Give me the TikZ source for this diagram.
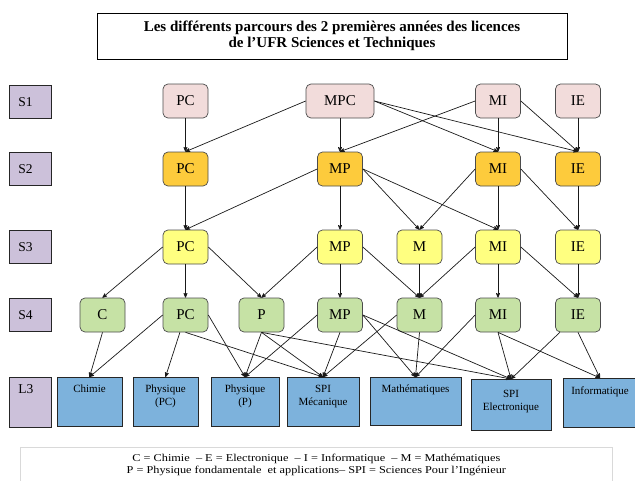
\documentclass[tikz,border=0pt]{standalone}
\usepackage{fontspec}
\setmainfont{Liberation Serif}
\newfontfamily\legendfont[FakeStretch=1.17]{Liberation Serif}
\usetikzlibrary{arrows}

\definecolor{semfill}{HTML}{CCC1DA}
\definecolor{sunfill}{HTML}{F2DCDB}
\definecolor{sdeuxfill}{HTML}{FDCB3C}
\definecolor{stroisfill}{HTML}{FFFF80}
\definecolor{squatrefill}{HTML}{C6E2A5}
\definecolor{lfill}{HTML}{7DB2DC}

\begin{document}
\begin{tikzpicture}[x=1pt,y=-1pt,>=stealth',line width=0.7pt,
  sem/.style={draw=black!85, fill=semfill, inner xsep=9pt, inner ysep=0pt,
    text width=24pt, align=left, text height=21pt, text depth=12pt,
    font=\fontsize{13.5}{15}\selectfont},
  course/.style={draw=black!70, rounded corners=5pt, minimum width=45pt,
    minimum height=34pt, inner sep=0pt, font=\fontsize{15}{17}\selectfont},
  sone/.style={course, fill=sunfill},
  stwo/.style={course, fill=sdeuxfill},
  sthree/.style={course, fill=stroisfill},
  sfour/.style={course, fill=squatrefill},
  licence/.style={draw=black!85, fill=lfill, anchor=north, inner xsep=0pt,
    inner ysep=0pt, align=center, text height=15pt, text depth=34pt,
    font=\fontsize{11}{13}\selectfont},
  arc/.style={->, black!90}]

\useasboundingbox (0,0) rectangle (635,480);

% title
  \node[draw, line width=0.9pt, minimum width=470pt, minimum height=46pt,
    align=center, font=\bfseries\fontsize{15}{16}\selectfont] (title) at (332,36)
{Les différents parcours des 2 premières années des licences\\de l’UFR Sciences et Techniques};

% semesters
  \node[sem, anchor=north west] (S1) at (9,85) {S1};
  \node[sem, anchor=north west] (S2) at (9,152) {S2};
  \node[sem, anchor=north west] (S3) at (9,230) {S3};
  \node[sem, anchor=north west] (S4) at (9,298) {S4};
  \node[sem, anchor=north west, text height=16pt, text depth=34pt] (L3) at (9,377) {L3};

% first semester
  \node[sone] (PC1) at (185.5,101) {PC};
  \node[sone, minimum width=68pt] (MPC1) at (340,101) {MPC};
  \node[sone] (MI1) at (498,101) {MI};
  \node[sone] (IE1) at (578,101) {IE};

% second semester
  \node[stwo] (PC2) at (185.5,169) {PC};
  \node[stwo] (MP2) at (340,169) {MP};
  \node[stwo] (MI2) at (498,169) {MI};
  \node[stwo] (IE2) at (578,169) {IE};

% third semester
  \node[sthree] (PC3) at (185.5,247) {PC};
  \node[sthree] (MP3) at (340,247) {MP};
  \node[sthree] (M3) at (419.5,247) {M};
  \node[sthree] (MI3) at (498,247) {MI};
  \node[sthree] (IE3) at (578,247) {IE};

% fourth semester
  \node[sfour] (C4) at (102.5,315) {C};
  \node[sfour] (PC4) at (185.5,315) {PC};
  \node[sfour] (P4) at (261.5,315) {P};
  \node[sfour] (MP4) at (340,315) {MP};
  \node[sfour] (M4) at (419.5,315) {M};
  \node[sfour] (MI4) at (498,315) {MI};
  \node[sfour] (IE4) at (578,315) {IE};

% licences
  \node[licence, text width=65pt] (chim) at (89.5,377) {Chimie};
  \node[licence, text width=65pt] (phypc) at (165.5,377) {Physique\\(PC)};
  \node[licence, text width=68pt] (phyp) at (245,377) {Physique\\(P)};
  \node[licence, text width=72pt] (spimec) at (323,377) {SPI\\Mécanique};
  \node[licence, text width=91pt, text depth=33pt] (maths) at (415.5,377) {Mathématiques};
  \node[licence, text width=80pt, text height=18pt, text depth=33pt] (spielec) at (511,379) {SPI\\Electronique};
  \node[licence, text width=74pt, text height=16pt, text depth=33pt] (info) at (600,378) {Informatique};

% legend
  \node[draw=black!15, minimum width=592pt, minimum height=36pt, anchor=north west,
    align=center, font=\legendfont\fontsize{10.5}{12}\selectfont] (legend) at (20,447)
{C = Chimie \ – E = Electronique \ – I = Informatique \ – M = Mathématiques\\
P = Physique fondamentale \ et applications– SPI = Sciences Pour l’Ingénieur};

% S1 to S2
  \path[arc] (PC1.south) edge (PC2.north)
        (MPC1.west) edge (PC2.north)
        (MPC1.south) edge (MP2.north)
        (MPC1.east) edge (MI2.north)
                    edge (IE2.north)
        (MI1.west) edge (MP2.north)
        (MI1.south) edge (MI2.north)
        (MI1.east) edge (IE2.north)
        (IE1.south) edge (IE2.north);

% S2 to S3
  \path[arc] (PC2.south) edge (PC3.north)
        (MP2.west) edge (PC3.north)
        (MP2.south) edge (MP3.north)
        (MP2.east) edge (M3.north)
                   edge (MI3.north)
        (MI2.west) edge (M3.north)
        (MI2.south) edge (MI3.north)
        (MI2.east) edge (IE3.north)
        (IE2.south) edge (IE3.north);

% S3 to S4
  \path[arc] (PC3.west) edge (C4.north)
        (PC3.south) edge (PC4.north)
        (PC3.east) edge (P4.north)
        (MP3.west) edge (P4.north)
        (MP3.south) edge (MP4.north)
        (MP3.east) edge (M4.north)
        (M3.south) edge (M4.north)
        (MI3.west) edge (M4.north)
        (MI3.south) edge (MI4.north)
        (MI3.east) edge (IE4.north)
        (IE3.south) edge (IE4.north);

% S4 to L3
  \path[arc] (C4.south) edge (chim.north)
        (PC4.west) edge (chim.north)
        (PC4) edge (phypc.north)
        (PC4.east) edge (phyp.north)
        (PC4.south) edge (spimec.north)
        (P4.south) edge (phyp.north)
                   edge (spimec.north)
                   edge (spielec.north)
        (MP4.west) edge (phyp.north)
        (MP4.south) edge (spimec.north)
        (MP4.east) edge (maths.north)
                   edge (spielec.north)
        (M4.west) edge (spimec.north)
        (M4.south) edge (maths.north)
        (MI4.west) edge (maths.north)
        (MI4.south) edge (spielec.north)
                    edge (info.north)
        (IE4) edge (spielec.north)
        (IE4.south) edge (info.north);

\end{tikzpicture}
\end{document}
